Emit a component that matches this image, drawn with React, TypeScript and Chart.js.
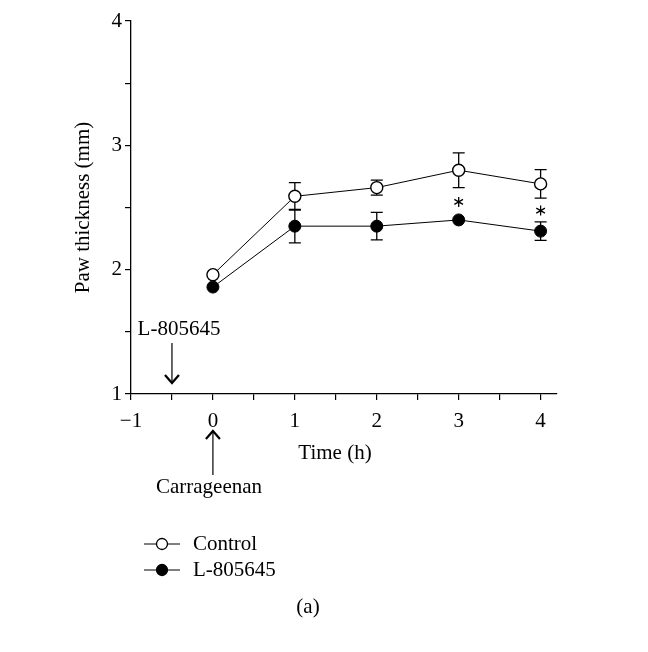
import React, { useEffect, useRef } from "react";
import { Chart, registerables } from "chart.js";

Chart.register(...registerables);

const timePoints = [0, 1, 2, 3, 4];
const controlMean = [1.96, 2.59, 2.66, 2.8, 2.69];
const controlErr = [0, 0.11, 0.06, 0.14, 0.115];
const drugMean = [1.86, 2.35, 2.35, 2.4, 2.31];
const drugErr = [0, 0.135, 0.11, 0, 0.075];
const sigTimes = [3, 4];
const sigY = [2.545, 2.475];
const xTicks = [-1, -0.5, 0, 0.5, 1, 1.5, 2, 2.5, 3, 3.5, 4];
const yTicks = [1, 1.5, 2, 2.5, 3, 3.5, 4];
const seriesNames = ["Control", "L-805645"];

const FONT = '"Liberation Serif", "Times New Roman", serif';
const FS = 21;

const overlay = {
  id: "overlay",
  beforeDatasetsDraw(chart: any) {
    const ctx = chart.ctx;
    const xs = chart.scales.x;
    const ys = chart.scales.y;
    ctx.save();
    ctx.strokeStyle = "#000";
    ctx.lineWidth = 1.3;
    const bars = (means: number[], errs: number[]) => {
      means.forEach((m, i) => {
        const e = errs[i];
        if (!e) return;
        const px = xs.getPixelForValue(timePoints[i]);
        const top = ys.getPixelForValue(m + e);
        const bot = ys.getPixelForValue(m - e);
        ctx.beginPath();
        ctx.moveTo(px, top);
        ctx.lineTo(px, bot);
        ctx.moveTo(px - 6, top);
        ctx.lineTo(px + 6, top);
        ctx.moveTo(px - 6, bot);
        ctx.lineTo(px + 6, bot);
        ctx.stroke();
      });
    };
    bars(controlMean, controlErr);
    bars(drugMean, drugErr);
    ctx.restore();
  },
  afterDraw(chart: any) {
    const ctx = chart.ctx;
    const xs = chart.scales.x;
    const ys = chart.scales.y;
    const ca = chart.chartArea;
    ctx.save();
    ctx.fillStyle = "#000";
    ctx.strokeStyle = "#000";
    ctx.font = `${FS}px ${FONT}`;
    ctx.textAlign = "center";
    ctx.textBaseline = "middle";

    // axis titles
    ctx.fillText("Time (h)", 335, 453);
    ctx.save();
    ctx.translate(83, (ca.top + ca.bottom) / 2);
    ctx.rotate(-Math.PI / 2);
    ctx.fillText("Paw thickness (mm)", 0, 0);
    ctx.restore();

    // asterisks
    ctx.lineWidth = 1.3;
    sigTimes.forEach((t, i) => {
      const px = xs.getPixelForValue(t);
      const py = ys.getPixelForValue(sigY[i]);
      const r = 5;
      ctx.beginPath();
      ctx.moveTo(px, py - r);
      ctx.lineTo(px, py + r);
      for (const a of [Math.PI / 6, -Math.PI / 6]) {
        ctx.moveTo(px - r * Math.cos(a), py - r * Math.sin(a));
        ctx.lineTo(px + r * Math.cos(a), py + r * Math.sin(a));
      }
      ctx.stroke();
    });

    // arrow for L-805645 (down)
    const ax = xs.getPixelForValue(-0.5);
    ctx.lineWidth = 1.2;
    ctx.beginPath();
    ctx.moveTo(ax, 343);
    ctx.lineTo(ax, 383);
    ctx.stroke();
    ctx.lineWidth = 2.2;
    ctx.beginPath();
    ctx.moveTo(ax - 7, 375);
    ctx.lineTo(ax, 383);
    ctx.lineTo(ax + 7, 375);
    ctx.stroke();
    ctx.fillText("L-805645", 179, 329);

    // arrow for Carrageenan (up)
    const cx = xs.getPixelForValue(0);
    ctx.lineWidth = 1.2;
    ctx.beginPath();
    ctx.moveTo(cx, 431);
    ctx.lineTo(cx, 475);
    ctx.stroke();
    ctx.lineWidth = 2.2;
    ctx.beginPath();
    ctx.moveTo(cx - 7, 439);
    ctx.lineTo(cx, 431);
    ctx.lineTo(cx + 7, 439);
    ctx.stroke();
    ctx.fillText("Carrageenan", 209, 487);

    // legend
    const legY = [544, 570];
    ctx.textAlign = "left";
    legY.forEach((ly, i) => {
      ctx.lineWidth = 1;
      ctx.beginPath();
      ctx.moveTo(144, ly);
      ctx.lineTo(180, ly);
      ctx.stroke();
      ctx.beginPath();
      ctx.arc(162, ly, 5.5, 0, Math.PI * 2);
      ctx.fillStyle = i === 0 ? "#fff" : "#000";
      ctx.fill();
      ctx.lineWidth = 1.3;
      ctx.stroke();
      ctx.fillStyle = "#000";
      ctx.fillText(seriesNames[i], 193, ly);
    });

    ctx.textAlign = "center";
    ctx.fillText("(a)", 308, 607);
    ctx.restore();
  },
};

export default function App() {
  const ref = useRef<HTMLCanvasElement | null>(null);
  useEffect(() => {
    if (!ref.current) return;
    const chart = new Chart(ref.current, {
      type: "line",
      data: {
        datasets: [
          {
            label: seriesNames[0],
            data: timePoints.map((t, i) => ({ x: t, y: controlMean[i] })),
            borderColor: "#000",
            borderWidth: 1,
            backgroundColor: "#fff",
            pointBackgroundColor: "#fff",
            pointBorderColor: "#000",
            pointBorderWidth: 1.4,
            pointRadius: 6,
            tension: 0,
          },
          {
            label: seriesNames[1],
            data: timePoints.map((t, i) => ({ x: t, y: drugMean[i] })),
            borderColor: "#000",
            borderWidth: 1,
            backgroundColor: "#000",
            pointBackgroundColor: "#000",
            pointBorderColor: "#000",
            pointBorderWidth: 1,
            pointRadius: 6,
            tension: 0,
          },
        ],
      },
      options: {
        animation: false,
        responsive: false,
        devicePixelRatio: 1,
        events: [],
        layout: { padding: { left: 0, top: 21, right: 91, bottom: 198 } },
        plugins: { legend: { display: false }, tooltip: { enabled: false } },
        scales: {
          x: {
            type: "linear",
            min: -1,
            max: 4.2,
            afterBuildTicks: (s: any) => {
              s.ticks = xTicks.map((v) => ({ value: v }));
            },
            afterFit: (s: any) => {
              s.height = 60;
            },
            border: { display: true, color: "#000", width: 1.3 },
            grid: {
              display: true,
              drawOnChartArea: false,
              drawTicks: true,
              tickLength: 6,
              color: "#000",
              tickColor: "#000",
              lineWidth: 1.2,
            },
            ticks: {
              autoSkip: false,
              maxRotation: 0,
              padding: 9,
              color: "#000",
              font: { family: FONT, size: FS },
              callback: (v: any) => {
                const n = Number(v);
                if (!Number.isInteger(n)) return "";
                return n < 0 ? "\u2212" + Math.abs(n) : String(n);
              },
            },
          },
          y: {
            type: "linear",
            min: 1,
            max: 4,
            afterBuildTicks: (s: any) => {
              s.ticks = yTicks.map((v) => ({ value: v }));
            },
            afterFit: (s: any) => {
              s.width = 131;
            },
            border: { display: true, color: "#000", width: 1.3 },
            grid: {
              display: true,
              drawOnChartArea: false,
              drawTicks: true,
              tickLength: 6,
              color: "#000",
              tickColor: "#000",
              lineWidth: 1.2,
            },
            ticks: {
              autoSkip: false,
              padding: 3,
              color: "#000",
              font: { family: FONT, size: FS },
              callback: (v: any) => {
                const n = Number(v);
                return Number.isInteger(n) ? String(n) : "";
              },
            },
          },
        },
      },
      plugins: [overlay],
    });
    return () => chart.destroy();
  }, []);
  return (
    <div style={{ position: "absolute", left: 0, top: 0, width: 648, height: 652, background: "#fff" }}>
      <canvas ref={ref} width={648} height={652} style={{ width: 648, height: 652 }} />
    </div>
  );
}
